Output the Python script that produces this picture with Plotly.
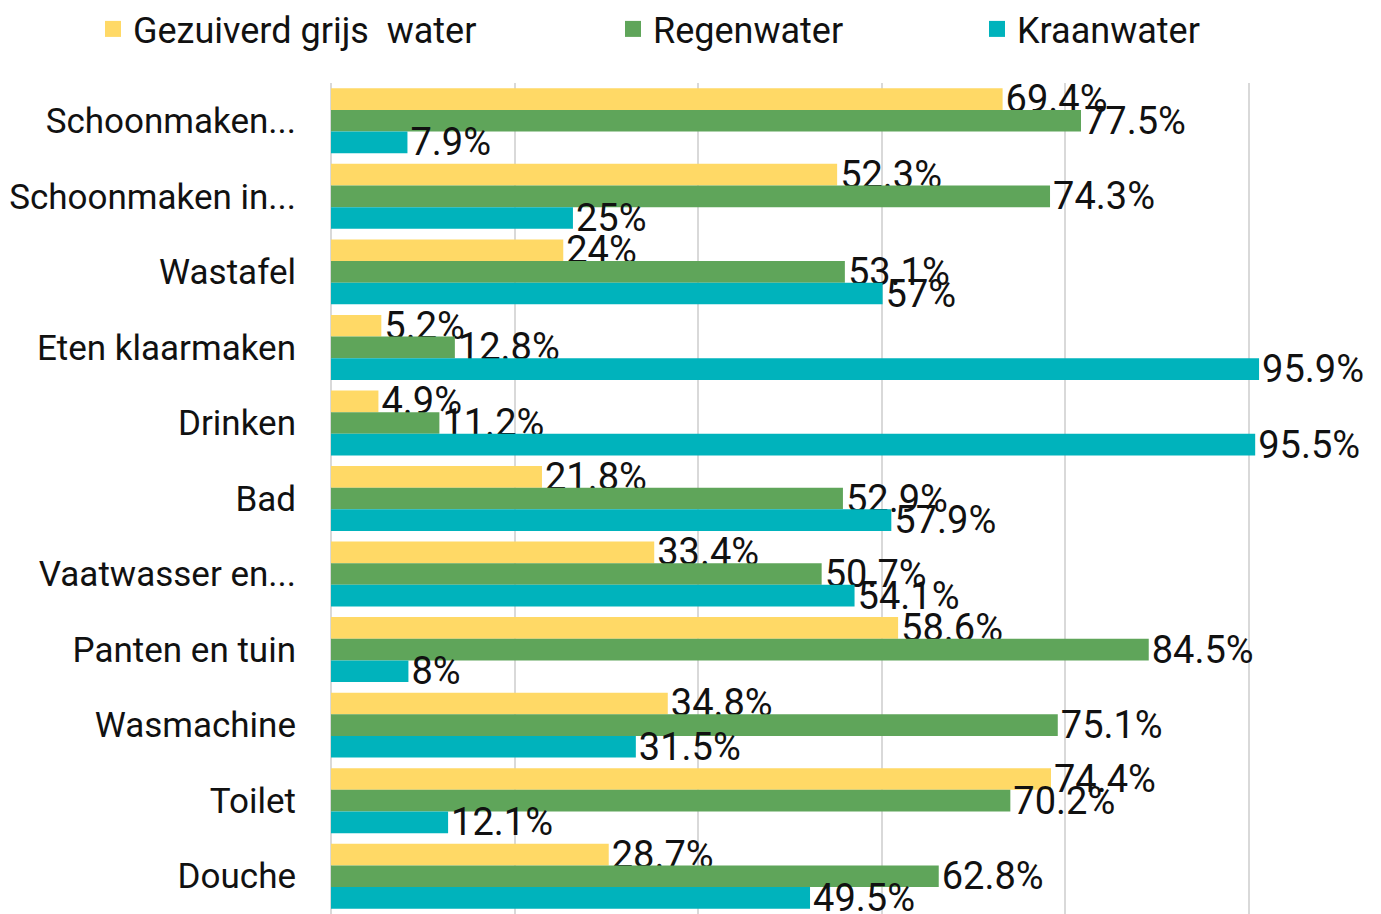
import plotly.graph_objects as go

categories = ["Schoonmaken...", "Schoonmaken in...", "Wastafel", "Eten klaarmaken",
              "Drinken", "Bad", "Vaatwasser en...", "Panten en tuin", "Wasmachine",
              "Toilet", "Douche"]
grijs_water = [69.4, 52.3, 24, 5.2, 4.9, 21.8, 33.4, 58.6, 34.8, 74.4, 28.7]
regenwater = [77.5, 74.3, 53.1, 12.8, 11.2, 52.9, 50.7, 84.5, 75.1, 70.2, 62.8]
kraanwater = [7.9, 25, 57, 95.9, 95.5, 57.9, 54.1, 8, 31.5, 12.1, 49.5]

series = [
    ("Gezuiverd grijs\u00a0 water", grijs_water, "#FFD966", "legend"),
    ("Regenwater", regenwater, "#5FA55A", "legend2"),
    ("Kraanwater", kraanwater, "#00B3BC", "legend3"),
]

FONT = "Roboto, 'Noto Sans', sans-serif"
fig = go.Figure()
for name, vals, color, lg in series:
    fig.add_trace(go.Bar(
        y=categories, x=vals, orientation="h", name=name,
        marker=dict(color=color, line=dict(width=0)),
        text=[f"{v:g}%" for v in vals], textposition="outside",
        textfont=dict(family=FONT, size=38, color="#111111"),
        constraintext="none", cliponaxis=False, showlegend=False,
        hoverinfo="skip",
    ))
    fig.add_trace(go.Scatter(
        x=[None], y=[None], mode="markers", name=name,
        marker=dict(symbol="square", size=16, color=color),
        legend=lg, showlegend=True,
    ))

# page body has an 8px default margin
OFF = 8
W, H = 1381 - OFF, 914 - OFF
L, T = 331 - OFF, 83 - OFF
pw = W - L
ph = H - T

def lx(px):
    return (px - OFF - L) / pw

ly = 1 + (T - (29 - OFF)) / ph
legend_common = dict(orientation="h", yanchor="middle", y=ly, xanchor="left",
                     font=dict(family=FONT, size=36, color="#111111"),
                     bgcolor="rgba(0,0,0,0)", borderwidth=0, itemclick=False)

fig.update_layout(
    width=W, height=H,
    margin=dict(l=L, r=0, t=T, b=0, autoexpand=False),
    paper_bgcolor="white", plot_bgcolor="white",
    barmode="group", bargap=0.14, bargroupgap=0,
    legend=dict(x=lx(93), **legend_common),
    legend2=dict(x=lx(613), **legend_common),
    legend3=dict(x=lx(977), **legend_common),
    xaxis=dict(range=[0, 108.5], tick0=0, dtick=18.97, showticklabels=False,
               showgrid=True, gridcolor="#D9D9D9", gridwidth=1.5,
               zeroline=True, zerolinecolor="#D9D9D9", zerolinewidth=1.5,
               showline=False, ticks="", automargin=False),
    yaxis=dict(type="category", autorange="reversed", showgrid=False,
               ticks="", ticklabelstandoff=34, automargin=False,
               tickfont=dict(family=FONT, size=35, color="#111111")),
    font=dict(family=FONT),
)

fig.write_html("out.html")
